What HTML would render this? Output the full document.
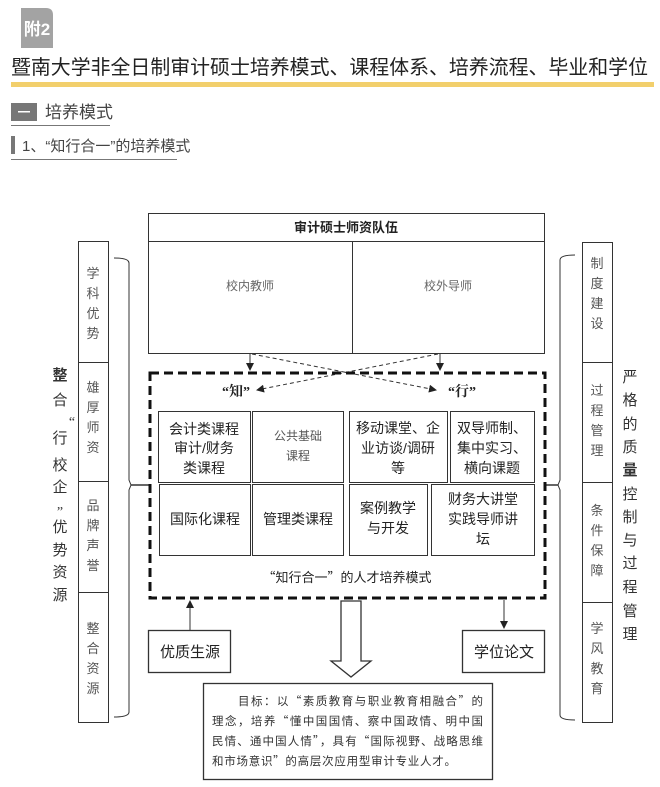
<!DOCTYPE html>
<html><head><meta charset="utf-8"><style>
body{margin:0;background:#fff;}
svg{display:block;font-family:"Liberation Sans","Noto Sans CJK SC",sans-serif;}
</style></head><body>
<svg width="660" height="787" viewBox="0 0 660 787" xmlns="http://www.w3.org/2000/svg">
<defs>
<marker id="ah" markerWidth="8" markerHeight="8" refX="7" refY="4" orient="auto" markerUnits="userSpaceOnUse"><path d="M0,0 L8,4 L0,8 z" fill="#222"/></marker>
</defs>
<path d="M21,8 H46 Q53,8 53,15 V48 H21 z" fill="#a3a3a3"/>
<text x="37" y="35" font-size="17" font-weight="bold" fill="#fff" text-anchor="middle">附2</text>
<text x="11" y="74" font-size="20" fill="#222" textLength="637" lengthAdjust="spacingAndGlyphs">暨南大学非全日制审计硕士培养模式、课程体系、培养流程、毕业和学位</text>
<rect x="11" y="82" width="643" height="5" fill="#f2cf6c"/>
<rect x="11" y="103" width="26" height="18" fill="#777"/>
<rect x="18" y="111" width="12" height="1.5" fill="#fff"/>
<text x="45" y="118" font-size="17" fill="#444">培养模式</text>
<rect x="11" y="125" width="99" height="1" fill="#777"/>
<rect x="11" y="136" width="4" height="18" fill="#777"/>
<text x="22" y="151" font-size="15" fill="#444">1、“知行合一”的培养模式</text>
<rect x="11" y="159" width="166" height="1" fill="#777"/>

<g stroke="#333" fill="none" stroke-width="1">
<rect x="148.5" y="213.5" width="396" height="140"/>
<line x1="148" y1="241.5" x2="544" y2="241.5"/>
<line x1="352.5" y1="241" x2="352.5" y2="353"/>
<rect x="78.5" y="241.5" width="30" height="481"/>
<line x1="78" y1="362.5" x2="108" y2="362.5"/>
<line x1="78" y1="481.5" x2="108" y2="481.5"/>
<line x1="78" y1="592.5" x2="108" y2="592.5"/>
<path d="M114,258 Q129,258 129,263 V480 L131,485 L129,490 V712 Q129,717 114,717"/>
<line x1="131" y1="485" x2="149" y2="485" stroke-width="1.5"/>
<rect x="582.5" y="242.5" width="30" height="480"/>
<line x1="582" y1="362.5" x2="612" y2="362.5"/>
<line x1="582" y1="482.5" x2="612" y2="482.5"/>
<line x1="582" y1="602.5" x2="612" y2="602.5"/>
<path d="M575,255 Q560,255 560,260 V480 L558,485 L560,490 V715 Q560,720 575,720"/>
<line x1="545" y1="485" x2="558" y2="485" stroke-width="1.5"/>
<line x1="250" y1="353" x2="250" y2="370" marker-end="url(#ah)"/>
<line x1="440" y1="353" x2="440" y2="370" marker-end="url(#ah)"/>
<line x1="252" y1="354" x2="436" y2="390" stroke-dasharray="4,3" marker-end="url(#ah)"/>
<line x1="438" y1="354" x2="257" y2="390" stroke-dasharray="4,3" marker-end="url(#ah)"/>
<rect x="150" y="373" width="395" height="225" stroke="#111" stroke-width="3" stroke-dasharray="9,5"/>
<rect x="158.5" y="411.5" width="92" height="71"/>
<rect x="252.5" y="411.5" width="91" height="71"/>
<rect x="349.5" y="411.5" width="98" height="71"/>
<rect x="450.5" y="411.5" width="84" height="71"/>
<rect x="159.5" y="484.5" width="91" height="71"/>
<rect x="252.5" y="484.5" width="91" height="71"/>
<rect x="349.5" y="484.5" width="78" height="71"/>
<rect x="431.5" y="484.5" width="103" height="71"/>
<rect x="148.5" y="630.5" width="82" height="42" stroke-width="1.3"/>
<rect x="462.5" y="630.5" width="82" height="42" stroke-width="1.3"/>
<line x1="190" y1="630" x2="190" y2="601" marker-end="url(#ah)"/>
<line x1="504" y1="600" x2="504" y2="628" marker-end="url(#ah)"/>
<path d="M341,601 H361 V661 H371 L351,677 L331,661 H341 z" stroke-width="1.3"/>
<rect x="203.5" y="683.5" width="289" height="96" stroke-width="1.3"/>
</g>

<g font-size="13" fill="#555" text-anchor="middle">
<text x="93" y="278">学</text><text x="93" y="298">科</text><text x="93" y="318">优</text><text x="93" y="338">势</text>
<text x="93" y="392">雄</text><text x="93" y="412">厚</text><text x="93" y="432">师</text><text x="93" y="452">资</text>
<text x="93" y="510">品</text><text x="93" y="530">牌</text><text x="93" y="550">声</text><text x="93" y="570">誉</text>
<text x="93" y="633">整</text><text x="93" y="653">合</text><text x="93" y="673">资</text><text x="93" y="693">源</text>
<text x="597" y="268">制</text><text x="597" y="288">度</text><text x="597" y="308">建</text><text x="597" y="328">设</text>
<text x="597" y="395">过</text><text x="597" y="415">程</text><text x="597" y="435">管</text><text x="597" y="455">理</text>
<text x="597" y="515">条</text><text x="597" y="535">件</text><text x="597" y="555">保</text><text x="597" y="575">障</text>
<text x="597" y="633">学</text><text x="597" y="653">风</text><text x="597" y="673">教</text><text x="597" y="693">育</text>
</g>
<g font-size="15" fill="#333" text-anchor="middle">
<text x="60" y="380" font-weight="bold">整</text><text x="60" y="405">合</text>
<text x="72" y="426" font-size="14" font-family="Liberation Serif, serif">“</text>
<text x="60" y="443">行</text><text x="60" y="470">校</text><text x="60" y="492">企</text>
<text x="60" y="516" font-size="14" font-family="Liberation Serif, serif">”</text>
<text x="60" y="532">优</text><text x="60" y="555">势</text><text x="60" y="577">资</text><text x="60" y="600">源</text>
<text x="630" y="382">严</text><text x="630" y="405">格</text><text x="630" y="429">的</text><text x="630" y="452">质</text>
<text x="630" y="475" font-weight="bold">量</text><text x="630" y="499">控</text><text x="630" y="522">制</text><text x="630" y="545">与</text>
<text x="630" y="568">过</text><text x="630" y="592">程</text><text x="630" y="616">管</text><text x="630" y="639">理</text>
</g>
<g text-anchor="middle" fill="#222">
<text x="346" y="232" font-size="13" font-weight="bold">审计硕士师资队伍</text>
<text x="250" y="290" font-size="12" fill="#666">校内教师</text>
<text x="448" y="290" font-size="12" fill="#666">校外导师</text>
<text x="236" y="396" font-size="14" font-weight="bold" font-family="Liberation Serif, Noto Serif CJK SC, serif">“知”</text>
<text x="462" y="396" font-size="14" font-weight="bold" font-family="Liberation Serif, Noto Serif CJK SC, serif">“行”</text>
<g font-size="14">
<text x="204" y="434">会计类课程</text><text x="204" y="453">审计/财务</text><text x="204" y="473">类课程</text>
<text x="298" y="440" font-size="12" fill="#555">公共基础</text><text x="298" y="460" font-size="12" fill="#555">课程</text>
<text x="398" y="433">移动课堂、企</text><text x="398" y="453">业访谈/调研</text><text x="398" y="473">等</text>
<text x="492" y="433">双导师制、</text><text x="492" y="453">集中实习、</text><text x="492" y="473">横向课题</text>
<text x="205" y="524">国际化课程</text>
<text x="298" y="524">管理类课程</text>
<text x="388" y="513">案例教学</text><text x="388" y="533">与开发</text>
<text x="483" y="504">财务大讲堂</text><text x="483" y="524">实践导师讲</text><text x="483" y="544">坛</text>
</g>
<text x="347" y="582" font-size="13" font-family="Noto Sans CJK SC, sans-serif">“知行合一”的人才培养模式</text>
<text x="190" y="657" font-size="15">优质生源</text>
<text x="504" y="657" font-size="15">学位论文</text>
</g>
<g font-size="11.5" fill="#333" font-family="Noto Sans CJK SC, sans-serif">
<text x="238" y="705" textLength="245" lengthAdjust="spacing">目标：以“素质教育与职业教育相融合”的</text>
<text x="212" y="725" textLength="271" lengthAdjust="spacing">理念，培养“懂中国国情、察中国政情、明中国</text>
<text x="212" y="745" textLength="271" lengthAdjust="spacing">民情、通中国人情”，具有“国际视野、战略思维</text>
<text x="212" y="765" textLength="244" lengthAdjust="spacing">和市场意识”的高层次应用型审计专业人才。</text>
</g>
</svg>
</body></html>
